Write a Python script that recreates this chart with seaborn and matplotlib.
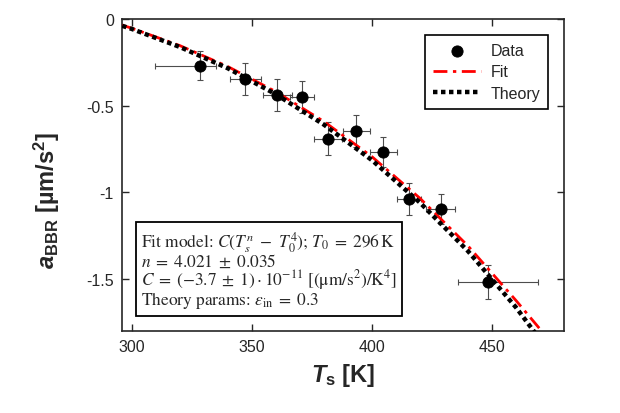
import numpy as np
import pandas as pd
import seaborn as sns
import matplotlib.pyplot as plt

# measured points
T_data = [328.6, 347.3, 360.6, 371.0, 381.7, 393.4, 404.6, 415.4, 428.6, 448.1]
a_data = [-0.269, -0.346, -0.439, -0.450, -0.692, -0.646, -0.767, -1.040, -1.096, -1.518]
xerr_lo = [19.0, 6.6, 6.0, 5.0, 5.8, 5.6, 5.6, 5.2, 6.0, 12.4]
xerr_hi = [6.6, 6.6, 6.0, 5.0, 5.8, 5.6, 5.6, 5.2, 6.0, 21.2]
yerr = [0.085, 0.092, 0.092, 0.090, 0.095, 0.090, 0.087, 0.092, 0.087, 0.098]

# curves
T_curve = [296, 300, 320, 340, 360, 380, 400, 420, 440, 460, 470]
a_fit = [-0.036, -0.054, -0.154, -0.275, -0.420, -0.592, -0.795, -1.035, -1.310, -1.625, -1.790]
a_theory = [-0.040, -0.058, -0.162, -0.285, -0.435, -0.610, -0.815, -1.060, -1.340, -1.665, -1.850]

box_text = ("Fit model: $C(T_s^n\\ -\\ T_0^4)$; $T_0\\;=\\;296\\,\\mathrm{K}$\n"
            "$n\\;=\\;4.021\\;\\pm\\;0.035$\n"
            "$C\\;=\\;(-3.7\\;\\pm\\;1)\\cdot 10^{-11}\\ [(\\mathrm{\u03bcm/s^2})/\\mathrm{K}^4]$\n"
            "Theory params: $\\epsilon_{\\mathrm{in}}\\;=\\;0.3$")

sns.set_style("ticks")
plt.rcParams['font.family'] = ['Liberation Sans', 'DejaVu Sans']
plt.rcParams['axes.unicode_minus'] = False
plt.rcParams['mathtext.fontset'] = 'custom'
plt.rcParams['mathtext.rm'] = 'Liberation Sans'
plt.rcParams['mathtext.it'] = 'Liberation Sans:italic:bold'
plt.rcParams['mathtext.bf'] = 'Liberation Sans:bold'

fig, ax = plt.subplots(figsize=(6.2, 4.14), dpi=100)
fig.subplots_adjust(left=0.197, right=0.910, bottom=0.198, top=0.952)

ax.errorbar(T_data, a_data, xerr=[xerr_lo, xerr_hi], yerr=yerr, fmt='none',
            ecolor='#4d4d4d', elinewidth=0.8, capsize=2.5, capthick=0.8, zorder=2)

sns.lineplot(x=T_curve, y=a_fit, color='red', lw=2, ax=ax, label='Fit', zorder=3)
ax.lines[-1].set_dashes([5, 2, 1.2, 2])
sns.lineplot(x=T_curve, y=a_theory, color='black', lw=3.2, ax=ax, label='Theory', zorder=4)
ax.lines[-1].set_dashes([1, 0.8])

sns.scatterplot(x=T_data, y=a_data, color='black', s=65, edgecolor='black', ax=ax,
                label='Data', zorder=6)

ax.set_xlim(296, 480)
ax.set_ylim(-1.8, 0)
ax.set_xticks([300, 350, 400, 450])
ax.set_yticks([-1.5, -1, -0.5, 0])
ax.set_yticklabels(['-1.5', '-1', '-0.5', '0'])
ax.tick_params(direction='in', top=True, right=True, length=5, width=1,
               labelsize=11.5, colors='#262626', pad=6)
for sp in ax.spines.values():
    sp.set_linewidth(1.2)
    sp.set_color('#262626')

ax.set_xlabel(r'$T_{\mathbf{s}}$ [K]', fontsize=17, fontweight='bold', labelpad=5)
ax.set_ylabel(r'$a_{\mathbf{BBR}}$ [µm/s$^{\mathbf{2}}$]', fontsize=17, fontweight='bold')
ax.yaxis.set_label_coords(-0.135, 0.42)

h, l = ax.get_legend_handles_labels()
order = [l.index('Data'), l.index('Fit'), l.index('Theory')]
leg = ax.legend([h[i] for i in order], [l[i] for i in order], loc='upper right',
                frameon=True, fancybox=False, edgecolor='black', framealpha=1,
                fontsize=11.5, handlelength=3, borderaxespad=1.0, borderpad=0.5,
                labelspacing=0.4, handletextpad=0.6)
leg.get_frame().set_linewidth(1.2)

ax.text(0.043, 0.085, box_text, transform=ax.transAxes, fontsize=12.5,
        family='STIXGeneral', math_fontfamily='stix', linespacing=0.88,
        bbox=dict(boxstyle='square,pad=0.3', fc='white', ec='black', lw=1.3), zorder=7)

plt.savefig('out.png', dpi=100)
